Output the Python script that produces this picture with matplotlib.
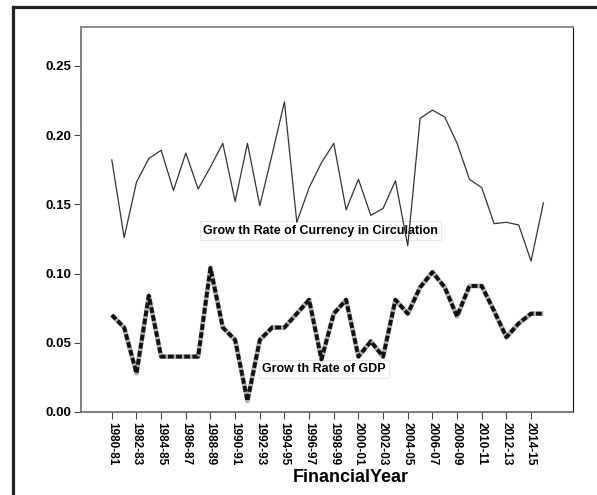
import numpy as np
import matplotlib
matplotlib.use('Agg')
import matplotlib.pyplot as plt
from matplotlib.lines import Line2D

# financial years 1980-81 .. 2015-16
years = ['%d-%02d' % (y, (y + 1) % 100) for y in range(1980, 2016)]

currency_growth = [0.182, 0.126, 0.166, 0.183, 0.189, 0.160, 0.187, 0.161, 0.177,
                   0.194, 0.152, 0.194, 0.149, 0.186, 0.224, 0.137, 0.162, 0.180,
                   0.194, 0.146, 0.168, 0.142, 0.147, 0.167, 0.120, 0.212, 0.218,
                   0.213, 0.194, 0.168, 0.162, 0.136, 0.137, 0.135, 0.109, 0.151]

gdp_growth = [0.070, 0.061, 0.028, 0.084, 0.040, 0.040, 0.040, 0.040, 0.104,
              0.061, 0.052, 0.008, 0.052, 0.061, 0.061, 0.071, 0.081, 0.038,
              0.071, 0.081, 0.040, 0.051, 0.040, 0.081, 0.071, 0.090, 0.101,
              0.090, 0.069, 0.091, 0.091, 0.073, 0.054, 0.064, 0.071, 0.071]

yticks = [0.00, 0.05, 0.10, 0.15, 0.20, 0.25]

fig = plt.figure(figsize=(5.97, 4.95), dpi=100)
ax = fig.add_axes([81/597, 1 - 412/495, 492/597, 385/495])

x = np.arange(len(years))
ax.plot(x, currency_growth, color='#333333', lw=0.9, zorder=3)
ax.plot(x, gdp_growth, color='#b0b0b0', lw=3.4, solid_capstyle='butt', zorder=3)
ax.plot(x, gdp_growth, color='#111111', lw=2.8, dashes=(1.5, 0.6), zorder=3)

ax.set_xlim(-2.5, 37.4)
ax.set_ylim(0, 0.278)
ax.set_xticks(x[::2])
ax.set_xticklabels(years[::2], rotation=-90, fontsize=8.5, fontweight='bold',
                   family='Liberation Sans')
ax.set_yticks(yticks)
ax.set_yticklabels(['%.2f' % v for v in yticks], fontsize=9.5, fontweight='bold',
                   family='Liberation Sans')
ax.tick_params(axis='both', length=5, width=0.8, color='#444444', pad=2)

ax.spines['left'].set_color('#808080')
ax.spines['top'].set_color('#8a8a8a')
ax.spines['left'].set_linewidth(1.4)
ax.spines['top'].set_linewidth(1.4)
ax.spines['right'].set_color('#111111')
ax.spines['bottom'].set_color('#666666')
ax.spines['bottom'].set_linewidth(1.2)

# series labels sit under the lines
box = dict(boxstyle='square,pad=0.25', fc='white', ec='#dbe6ee', lw=0.6)
ax.text(16.9, 0.131, 'Grow th Rate of Currency in Circulation', ha='center', va='center',
        fontsize=9, fontweight='bold', family='Liberation Sans', bbox=box, zorder=2)
ax.text(17.2, 0.031, 'Grow th Rate of GDP', ha='center', va='center',
        fontsize=9, fontweight='bold', family='Liberation Sans', bbox=box, zorder=2)

fig.text(351/597, 1 - 477/495, 'FinancialYear', ha='center', va='center',
         fontsize=13, fontweight='bold', family='Liberation Sans')

# outer frame (top and left edges)
fig.add_artist(Line2D([12.5/597, 12.5/597], [0, 1 - 7/495], color='#222222', lw=2.3,
                      transform=fig.transFigure, solid_capstyle='projecting'))
fig.add_artist(Line2D([12.5/597, 1], [1 - 7/495, 1 - 7/495], color='#222222', lw=2.3,
                      transform=fig.transFigure, solid_capstyle='projecting'))

fig.savefig('out.png', dpi=100)
